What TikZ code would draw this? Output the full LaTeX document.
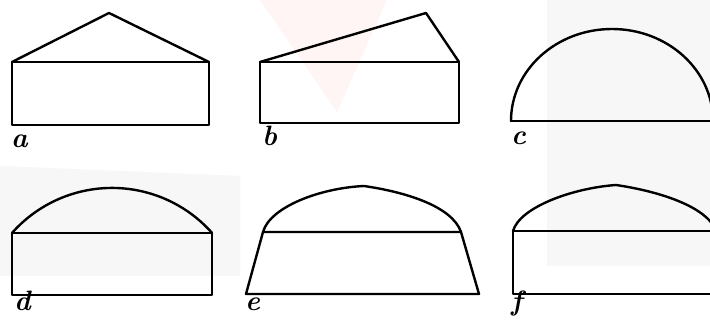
\documentclass[tikz,border=0pt]{standalone}
\usetikzlibrary{calc}
\begin{document}
\begin{tikzpicture}[x=1pt,y=1pt,
  outline/.style={line width=2.4pt,line join=round,line cap=round,black},
  lbl/.style={anchor=base west,inner sep=0pt,font=\fontsize{28}{28}\selectfont\bfseries\itshape}]
\useasboundingbox (0,0) rectangle (710,326);
\clip (0,0) rectangle (710,326);
% faint watermark background
\fill[white] (0,0) rectangle (710,326);
\fill[black!3] (547,60) rectangle (710,326);
\fill[black!3] (0,50) -- (240,50) -- (240,150) -- (0,160) -- cycle;
\fill[red!4] (260,326) -- (387,326) -- (337,214) -- cycle;
% a
\draw[outline] (12,201) rectangle (209,264);
\draw[outline] (12,264) -- (109,313) -- (209,264);
\node[lbl] (la) at (11,178) {a};
% b
\draw[outline] (260,203) rectangle (459,264);
\draw[outline] (260,264) -- (426,313) -- (459,264);
\node[lbl] (lb) at (262,180) {b};
% c
\draw[outline] (511,205) -- (720,205);
\draw[outline] (511,205) arc[start angle=180,end angle=0,x radius=101,y radius=92];
\node[lbl] (lc) at (511,181) {c};
% d
\draw[outline] (12,31) rectangle (212,93);
\draw[outline] (12,93) arc[start angle=138.5,end angle=41.5,radius=133.6];
\node[lbl] (ld) at (14,15) {d};
% e
\draw[outline] (263,94) -- (461,94) -- (479,32) -- (246,32) -- cycle;
\draw[outline] (263,94) .. controls (270,119) and (320,138) .. (364,140)
                        .. controls (405,134) and (452,120) .. (461,94);
\node[lbl] (le) at (245,15) {e};
% f
\draw[outline] (716,95) -- (513,95) -- (513,32) -- (716,32);
\draw[outline] (513,95) .. controls (520,119) and (573,138) .. (616,141)
                        .. controls (657,135) and (707,120) .. (716,95);
\node[lbl] (lf) at (511,15) {f};
\end{tikzpicture}
\end{document}
